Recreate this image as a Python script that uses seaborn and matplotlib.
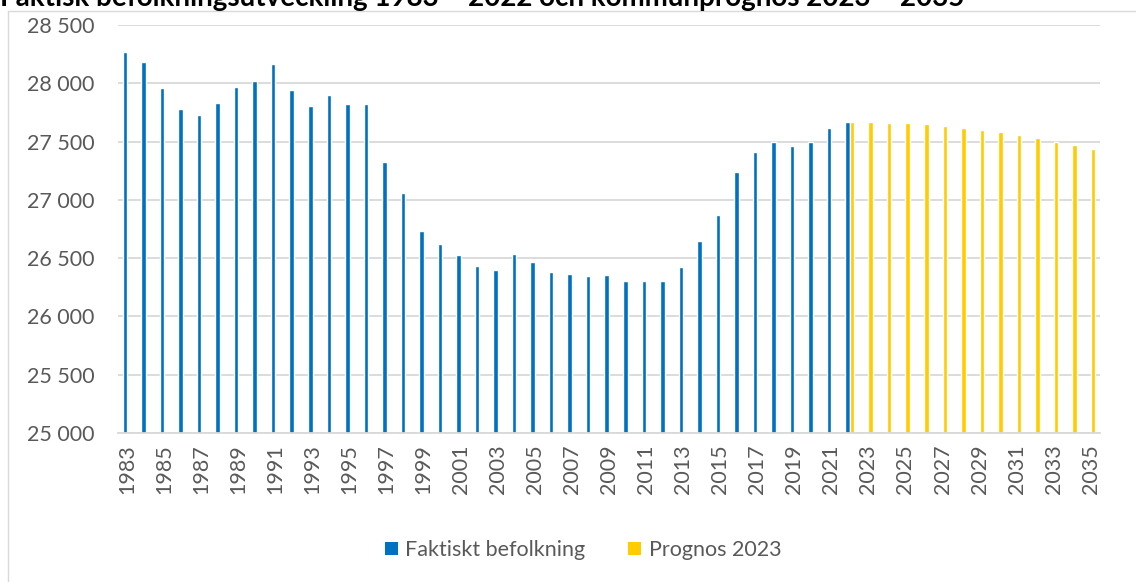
import numpy as np
import pandas as pd
import matplotlib
matplotlib.use('Agg')
import matplotlib.pyplot as plt
import matplotlib.ticker as mtick
from matplotlib.lines import Line2D
from matplotlib.patches import Patch
import seaborn as sns

# data
years = list(range(1983, 2036))
years_faktiskt = list(range(1983, 2023))
faktiskt = [28266, 28185, 27960, 27780, 27726, 27829, 27971, 28016, 28164, 27940,
            27806, 27897, 27820, 27820, 27328, 27063, 26737, 26625, 26523, 26432,
            26400, 26537, 26463, 26385, 26368, 26346, 26355, 26308, 26308, 26303,
            26423, 26649, 26874, 27237, 27409, 27500, 27463, 27500, 27617, 27669]
years_prognos = list(range(2022, 2036))
prognos = [27669, 27666, 27660, 27657, 27649, 27637, 27620, 27600, 27580, 27557,
           27529, 27500, 27469, 27435]

series_names = ['Faktiskt befolkning', 'Prognos 2023']
colors = ['#0070C0', '#FFCC00']
title = 'Faktisk befolkningsutveckling 1983 – 2022 och kommunprognos 2023 – 2035'

# long format for seaborn
df = pd.concat([
    pd.DataFrame({'year': [str(y) for y in years_faktiskt], 'value': faktiskt, 'serie': series_names[0]}),
    pd.DataFrame({'year': [str(y) for y in years_prognos], 'value': prognos, 'serie': series_names[1]}),
], ignore_index=True)

sns.set_theme(style='white')
plt.rcParams['font.family'] = ['Lato', 'DejaVu Sans']
txt_col = '#595959'
grid_col = '#D9D9D9'
fs = 15.5

fig = plt.figure(figsize=(11.36, 5.82), dpi=100)
ax = fig.add_axes([118 / 1136, 1 - 433 / 582, (1100 - 118) / 1136, (433 - 25) / 582])

sns.barplot(data=df, x='year', y='value', hue='serie',
            order=[str(y) for y in years], hue_order=series_names,
            palette=colors, width=0.49, dodge=True, saturation=1,
            legend=False, ax=ax)

# axes look
ax.set_ylim(25000, 28500)
ax.set_yticks(np.arange(25000, 28501, 500))
ax.yaxis.set_major_formatter(mtick.FuncFormatter(lambda v, p: f'{v:,.0f}'.replace(',', ' ')))
ax.set_axisbelow(True)
ax.grid(axis='y', color=grid_col, linewidth=1.3)
for s in ['top', 'right', 'left']:
    ax.spines[s].set_visible(False)
ax.spines['bottom'].set_color(grid_col)
ax.spines['bottom'].set_linewidth(1.3)
ax.tick_params(axis='both', length=0, labelsize=fs, colors=txt_col)
ax.tick_params(axis='y', pad=17)
ax.tick_params(axis='x', pad=8)
ax.set_xticks(range(len(years)))
ax.set_xticklabels([str(y) if i % 2 == 0 else '' for i, y in enumerate(years)], rotation=90)
ax.set_xlabel('')
ax.set_ylabel('')

# legend at bottom
handles = [Patch(facecolor=c, edgecolor='none') for c in colors]
fig.legend(handles, series_names, loc='center', bbox_to_anchor=(583 / 1136, 1 - 550 / 582),
           ncol=2, frameon=False, fontsize=fs, labelcolor=txt_col,
           handlelength=0.6, handleheight=0.6, handletextpad=0.35, columnspacing=2.0)

# chart border (cut by image edges) and clipped title
fig.add_artist(Line2D([8 / 1136, 8 / 1136], [0, 1 - 11 / 582], transform=fig.transFigure,
                      color=grid_col, linewidth=1))
fig.add_artist(Line2D([8 / 1136, 1], [1 - 11 / 582, 1 - 11 / 582], transform=fig.transFigure,
                      color=grid_col, linewidth=1))
fig.text(0.0, 1 - 6 / 582, title, fontsize=20, fontweight='bold', color='black',
         ha='left', va='baseline')

plt.savefig('out.png', dpi=100)
plt.close(fig)
